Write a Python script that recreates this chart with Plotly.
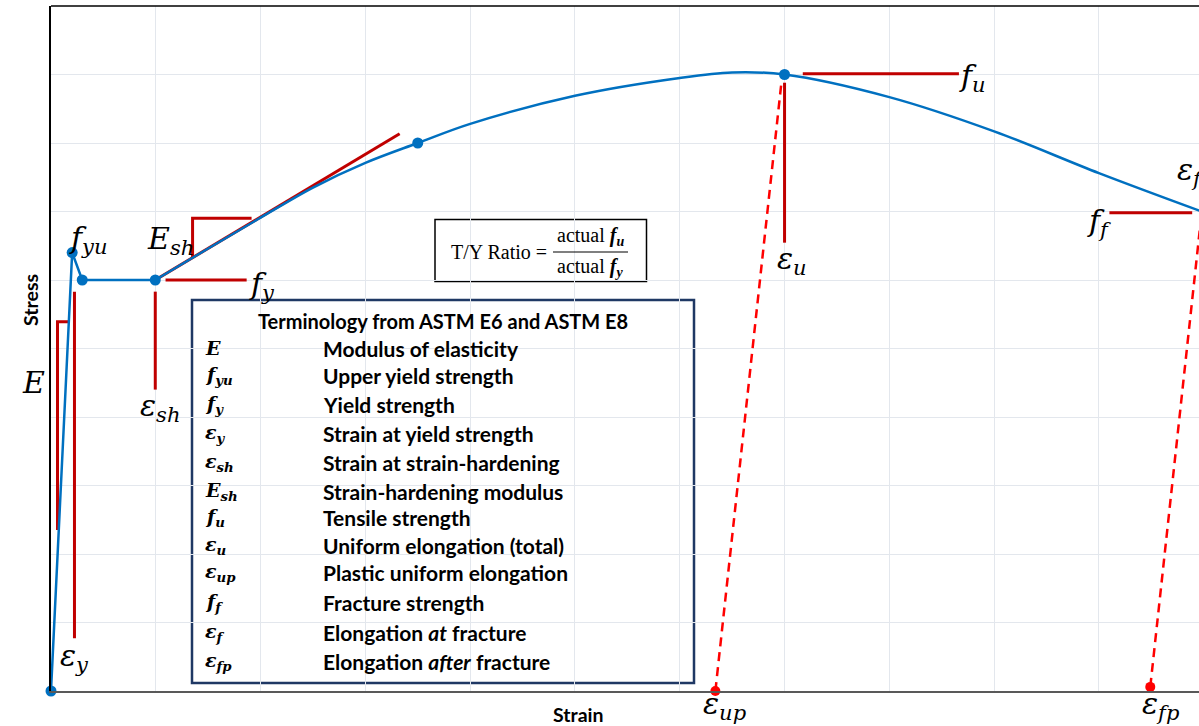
import plotly.graph_objects as go

# ---------------- data ----------------
X_MAX = 10.955
Y_MAX = 10.0

# elastic branch + yield plateau
elastic_strain = [0.0, 0.202, 0.298, 0.995]
elastic_stress = [0.0, 6.40, 6.00, 6.00]

# strain hardening + necking branch
hard_strain = [0.995, 1.5, 2.0, 2.5, 3.0, 3.5, 4.0, 5.0, 6.0, 6.5, 7.0, 8.0, 9.0, 10.0, 10.98]
hard_stress = [6.00, 6.46, 6.91, 7.35, 7.71, 8.00, 8.28, 8.69, 8.95, 9.03, 9.00, 8.67, 8.17, 7.56, 7.00]

# highlighted points on the curve
key_strain = [0.0, 0.202, 0.298, 0.995, 3.5, 7.0]
key_stress = [0.0, 6.40, 6.00, 6.00, 8.00, 9.00]

# characteristic values
fy = 6.0
fu = 9.0
ff = 6.98
eps_y = 0.224
eps_sh = 0.995
eps_u = 7.0
eps_up = 6.34
eps_fp = 10.49
eps_f = 10.98
Esh_slope = 0.916

# plastic unloading points
unload_strain = [eps_up, eps_fp]
unload_stress = [0.0, 0.06]

terms_sym = ["E", "f<sub>yu</sub>", "f<sub>y</sub>", "ε<sub>y</sub>", "ε<sub>sh</sub>", "E<sub>sh</sub>",
             "f<sub>u</sub>", "ε<sub>u</sub>", "ε<sub>up</sub>", "f<sub>f</sub>", "ε<sub>f</sub>", "ε<sub>fp</sub>"]
terms_desc = ["Modulus of elasticity", "Upper yield strength", "Yield strength", "Strain at yield strength",
              "Strain at strain-hardening", "Strain-hardening modulus", "Tensile strength",
              "Uniform elongation (total)", "Plastic uniform elongation", "Fracture strength",
              "Elongation <i>at</i> fracture", "Elongation <i>after</i> fracture"]

# ---------------- geometry helpers (pixel -> axis / paper for layout placement) ----------------
L, R, T, B = 51, 0, 6, 35
W, H = 1199, 726
PW, PH = W - L - R, H - T - B

def px2x(p):
    return (p - L) / PW * X_MAX

def py2y(p):
    return (H - B - p) / PH * Y_MAX

def ppx(p):
    return (p - L) / PW

def ppy(p):
    return (H - B - p) / PH

BLUE = "#0070C0"
DRED = "#C00000"
RED = "#FF0000"
NAVY = "#1F3864"
MATH = "DejaVu Serif"
SERIF = "Liberation Serif"
SANS = "Lato"

fig = go.Figure()

# red reference lines (solid)
ref_x, ref_y = [], []
def seg(xs, ys):
    ref_x.extend(xs + [None]); ref_y.extend(ys + [None])

seg([0.167, 0.062, 0.062], [5.39, 5.39, 2.35])                  # E bracket
seg([eps_y, eps_y], [5.83, 0.77])                               # eps_y
seg([1.093, 1.867], [fy, fy])                                    # f_y
seg([eps_sh, eps_sh], [5.83, 4.40])                              # eps_sh
x_tri = 1.351
seg([x_tri, x_tri, 1.914], [fy + Esh_slope * (x_tri - eps_sh), 6.90, 6.90])  # Esh triangle
seg([eps_sh, 3.327], [fy, fy + Esh_slope * (3.327 - eps_sh)])   # tangent
seg([7.174, 8.664], [fu + 0.01, fu + 0.01])                      # f_u
seg([eps_u, eps_u], [8.88, 6.545])                               # eps_u
seg([10.10, 10.89], [ff, ff])                                    # f_f

fig.add_trace(go.Scatter(x=ref_x, y=ref_y, mode="lines",
                         line=dict(color=DRED, width=3), hoverinfo="skip", showlegend=False))

# dashed unloading lines
fig.add_trace(go.Scatter(x=[eps_up, 6.97, None, eps_fp, eps_f],
                         y=[0.0, 8.88, None, 0.06, ff], mode="lines",
                         line=dict(color=RED, width=2.5, dash="9px,6px"),
                         hoverinfo="skip", showlegend=False))

# curve
fig.add_trace(go.Scatter(x=elastic_strain, y=elastic_stress, mode="lines",
                         line=dict(color=BLUE, width=2.5), showlegend=False))
fig.add_trace(go.Scatter(x=hard_strain, y=hard_stress, mode="lines",
                         line=dict(color=BLUE, width=2.5, shape="spline", smoothing=1.0),
                         showlegend=False))
fig.add_trace(go.Scatter(x=key_strain, y=key_stress, mode="markers",
                         marker=dict(color=BLUE, size=11), cliponaxis=False, showlegend=False))
fig.add_trace(go.Scatter(x=unload_strain, y=unload_stress, mode="markers",
                         marker=dict(color=RED, size=10), cliponaxis=False, showlegend=False))

annotations = []

def ann(text, px, py, family, size, xanchor="center", angle=0):
    annotations.append(dict(x=ppx(px), y=ppy(py), xref="paper", yref="paper", text=text,
                            showarrow=False, font=dict(family=family, size=size, color="black"),
                            xanchor=xanchor, yanchor="middle", textangle=angle))

# math labels on the chart
labels = [
    ("f<sub>yu</sub>", 88, 239), ("E<sub>sh</sub>", 170, 240), ("f<sub>y</sub>", 262, 285),
    ("E", 33, 382), ("ε<sub>sh</sub>", 160, 407), ("ε<sub>y</sub>", 74, 657),
    ("f<sub>u</sub>", 972, 78), ("ε<sub>u</sub>", 792, 260), ("ε<sub>f</sub>", 1190, 172),
    ("f<sub>f</sub>", 1099, 222), ("ε<sub>up</sub>", 724, 705), ("ε<sub>fp</sub>", 1160, 705),
]
for t, px, py in labels:
    ann("<i>" + t + "</i>", px, py, MATH, 30)

# T/Y ratio box
ann("T/Y Ratio =", 449, 252, SERIF, 20, xanchor="left")
ann("actual <b><i>f<sub>u</sub></i></b>", 590, 236, SERIF, 20)
ann("actual <b><i>f<sub>y</sub></i></b>", 590, 268, SERIF, 20)

# terminology box
ann("<b>Terminology from ASTM E6 and ASTM E8</b>", 443, 321, SANS, 20)
row_y = [348, 375, 404, 433, 462, 491, 517, 545, 572, 602, 632, 661]
for s, d, py in zip(terms_sym, terms_desc, row_y):
    ann("<b><i>" + s + "</i></b>", 203, py, MATH, 19, xanchor="left")
    ann("<b>" + d + "</b>", 321, py, SANS, 21, xanchor="left")

# axis titles
ann("<b>Strain</b>", 578, 714, SANS, 19.5)
ann("<b>Stress</b>", 30, 300, SANS, 19.5, angle=-90)

shapes = [
    # terminology box
    dict(type="rect", xref="x", yref="y", x0=px2x(192), x1=px2x(694), y0=py2y(300), y1=py2y(683),
         line=dict(color=NAVY, width=2.5), fillcolor="white", layer="below"),
    # T/Y box
    dict(type="rect", xref="x", yref="y", x0=px2x(435), x1=px2x(646.5), y0=py2y(219.5), y1=py2y(281.5),
         line=dict(color="black", width=1.5), fillcolor="white", layer="below"),
    dict(type="line", xref="x", yref="y", x0=px2x(553), x1=px2x(628), y0=py2y(252), y1=py2y(252),
         line=dict(color="black", width=1.2)),
    # top border
    dict(type="line", xref="paper", yref="paper", x0=0, x1=1, y0=1, y1=1,
         line=dict(color="black", width=1.5)),
]

fig.update_layout(
    width=W, height=H,
    margin=dict(l=L, r=R, t=T, b=B),
    plot_bgcolor="white", paper_bgcolor="white",
    showlegend=False,
    annotations=annotations,
    shapes=shapes,
    xaxis=dict(range=[0, X_MAX], dtick=1, tick0=0, showgrid=True, gridcolor="#E3E7ED", gridwidth=1,
               showticklabels=False, ticks="", zeroline=False, showline=True,
               linecolor="#595959", linewidth=2),
    yaxis=dict(range=[0, Y_MAX], dtick=1, tick0=0, showgrid=True, gridcolor="#E3E7ED", gridwidth=1,
               showticklabels=False, ticks="", zeroline=False, showline=True,
               linecolor="black", linewidth=1.5),
)

fig.write_html("out.html", config={"displayModeBar": False},
               post_script="document.body.style.margin='0px';document.body.style.overflow='hidden';")
